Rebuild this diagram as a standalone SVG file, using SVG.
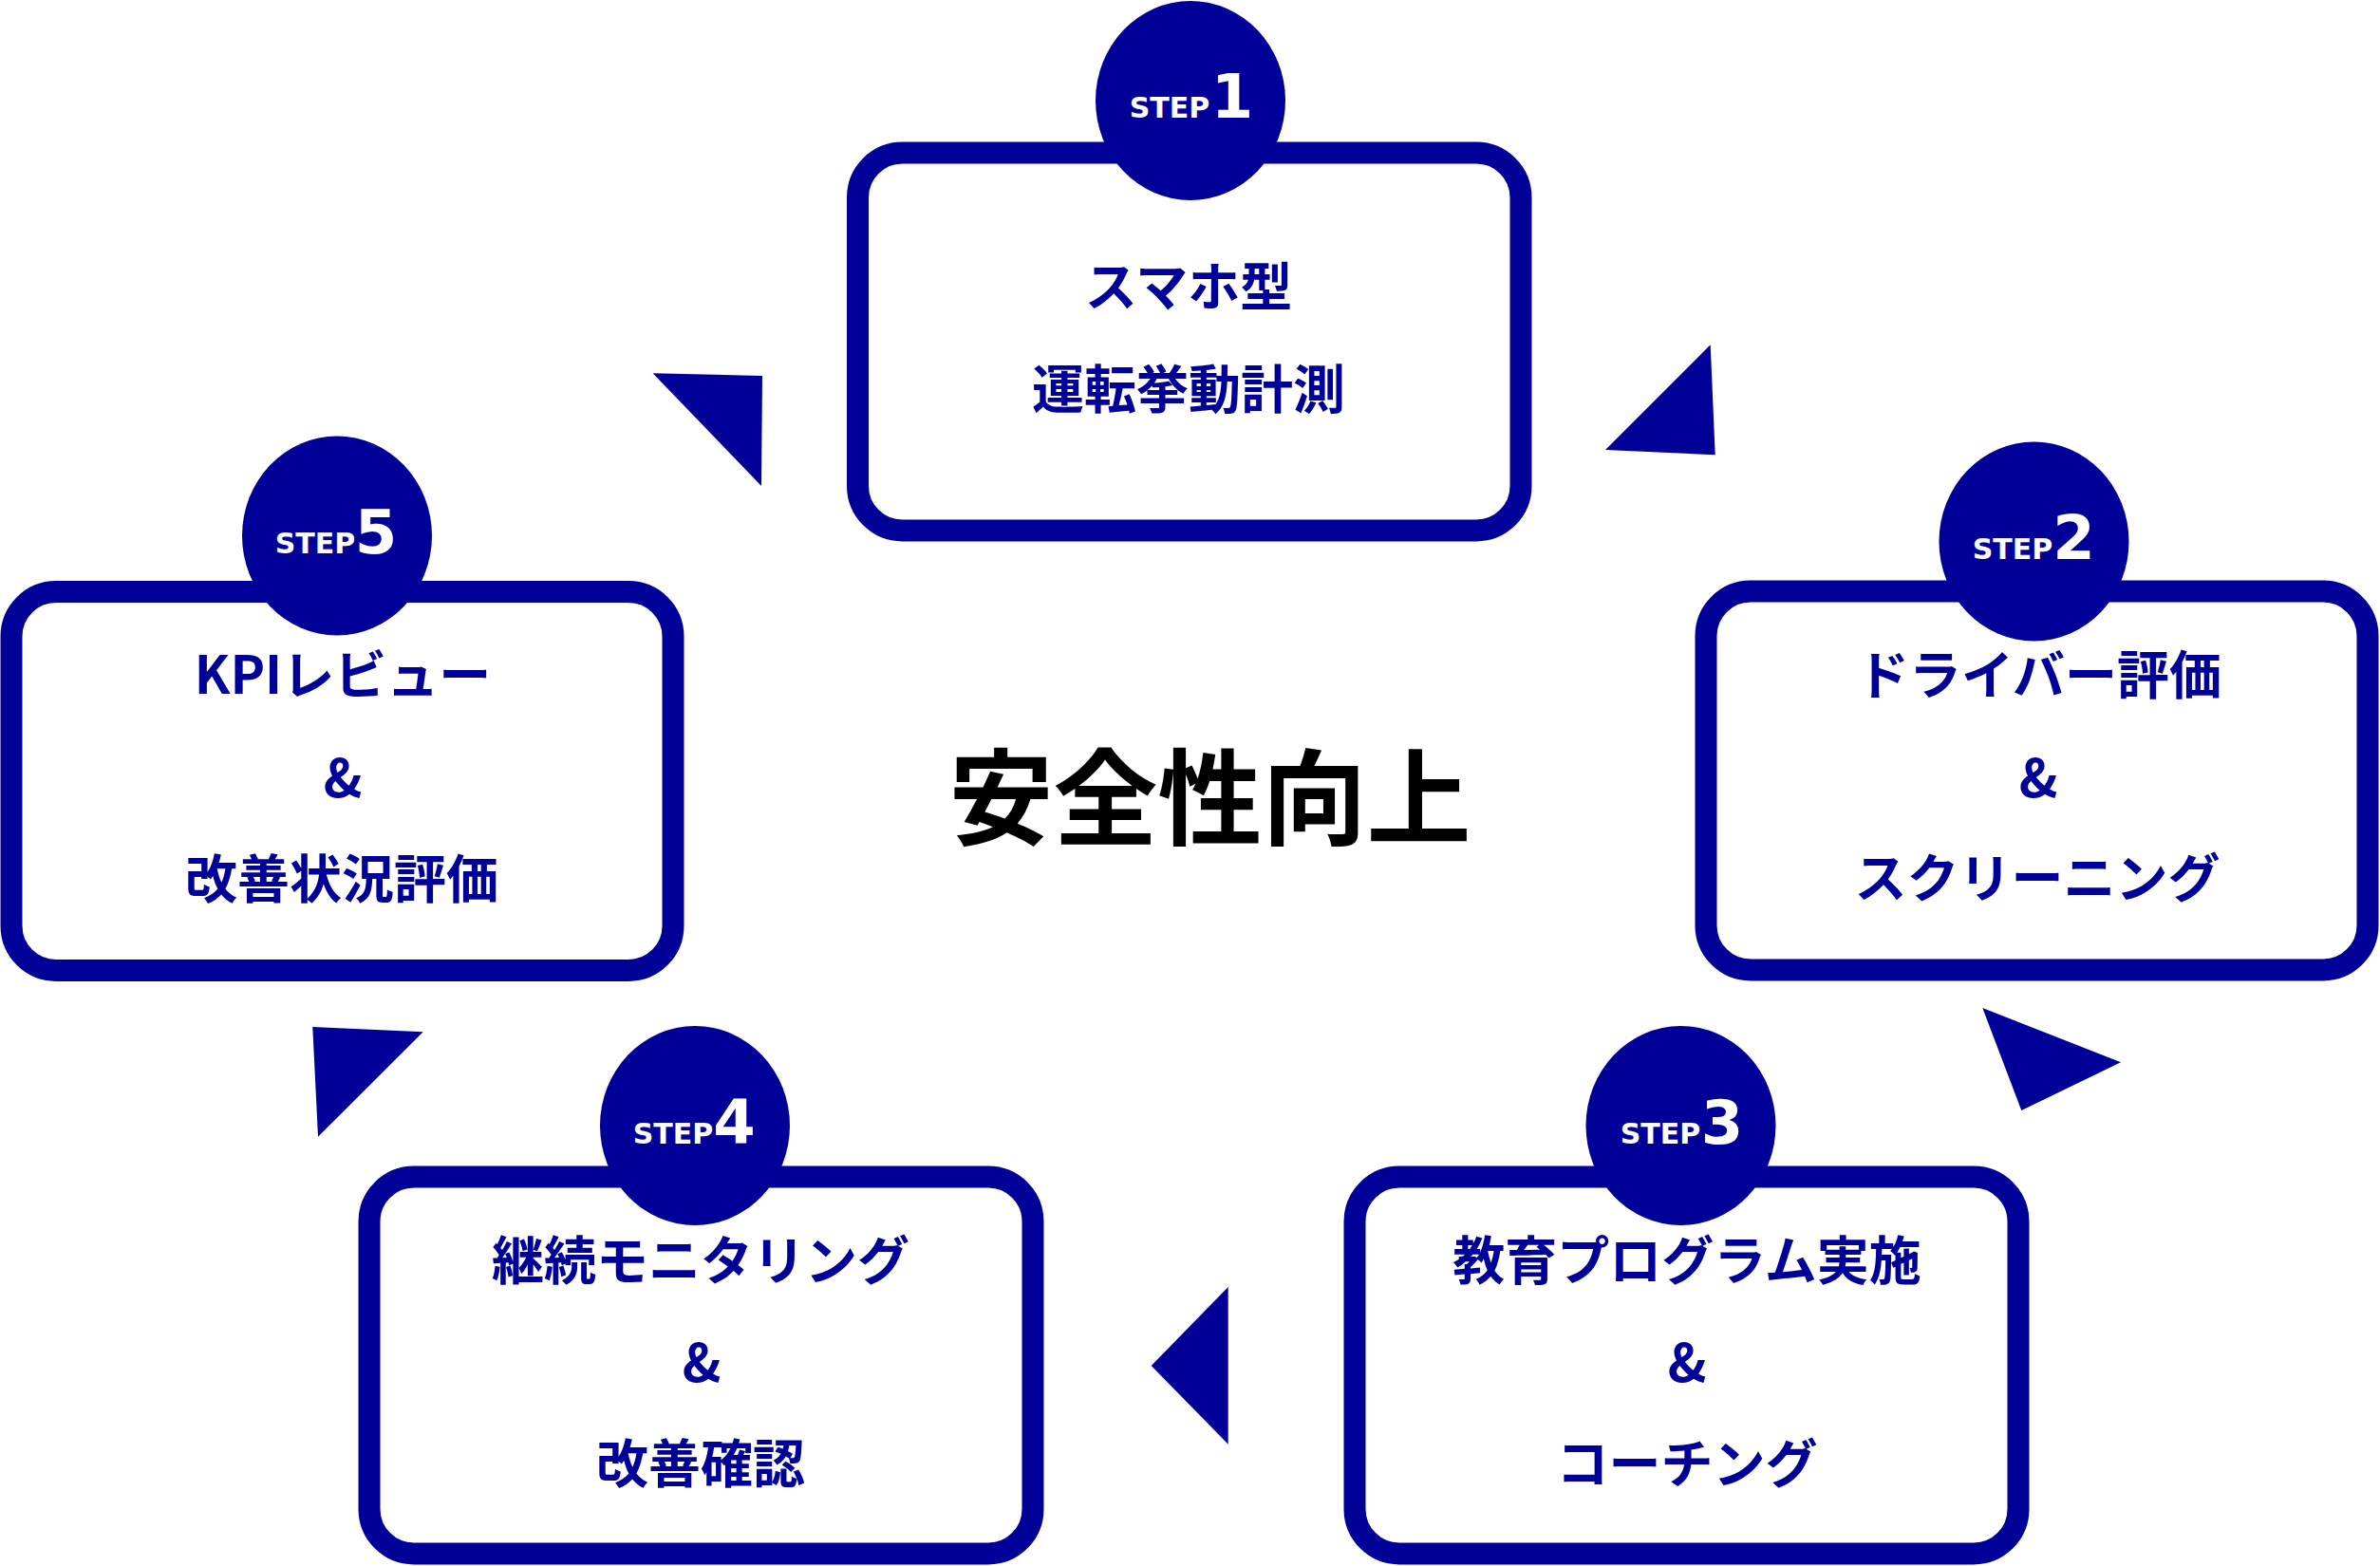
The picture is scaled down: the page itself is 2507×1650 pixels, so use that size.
<svg xmlns="http://www.w3.org/2000/svg" width="2507" height="1650" viewBox="0 0 2507 1650">
<style>
.box{fill:#ffffff;stroke:#000099;stroke-width:23}
.badge{fill:#000099}
.tri{fill:#000099}
.lbl{font-family:"Noto Sans CJK JP","Noto Sans",sans-serif;font-weight:bold;font-size:55px;fill:#000099;text-anchor:middle}
.step{font-family:"DejaVu Sans",sans-serif;font-weight:bold;font-size:30px;fill:#ffffff;text-anchor:middle}
.num{font-family:"DejaVu Sans",sans-serif;font-weight:bold;font-size:64px;fill:#ffffff;text-anchor:middle}
.title{font-family:"Noto Sans CJK JP",sans-serif;font-weight:bold;font-size:110px;fill:#000000;text-anchor:middle}
</style>
<rect width="2507" height="1650" fill="#ffffff"/>
<g id="connectors">
<polygon class="tri" points="1691,474 1801.7,363.3 1806.7,479.3"/>
<polygon class="tri" points="2088.3,1062 2234,1119.3 2129.3,1170"/>
<polygon class="tri" points="1212.7,1439 1293.7,1356 1293.7,1521.7"/>
<polygon class="tri" points="329.3,1082 445.7,1087.3 335,1197.7"/>
<polygon class="tri" points="687.6,393.3 803,396 802,512"/>
</g>
<g id="step1">
<rect class="box" x="903.5" y="161" width="698.5" height="398" rx="47" ry="47"/>
<ellipse class="badge" cx="1254" cy="106" rx="100" ry="105"/>
<text class="step" x="1232" y="123.5">STEP</text>
<text class="num" x="1298" y="123.5">1</text>
<text class="lbl" x="1252" y="322">スマホ型</text>
<text class="lbl" x="1252" y="430">運転挙動計測</text>
</g>
<g id="step2">
<rect class="box" x="1797" y="623" width="697" height="399" rx="47" ry="47"/>
<ellipse class="badge" cx="2142.5" cy="570.5" rx="100" ry="105"/>
<text class="step" x="2120" y="589">STEP</text>
<text class="num" x="2184.5" y="589">2</text>
<text class="lbl" x="2148" y="731">ドライバー評価</text>
<text class="lbl" x="2147" y="840">&amp;</text>
<text class="lbl" x="2146" y="945">スクリーニング</text>
</g>
<g id="step3">
<rect class="box" x="1427" y="1240" width="699" height="397" rx="47" ry="47"/>
<ellipse class="badge" cx="1770.5" cy="1186" rx="100" ry="105"/>
<text class="step" x="1749" y="1205">STEP</text>
<text class="num" x="1814" y="1205">3</text>
<text class="lbl" x="1777" y="1348">教育プログラム実施</text>
<text class="lbl" x="1777" y="1456">&amp;</text>
<text class="lbl" x="1777" y="1562">コーチング</text>
</g>
<g id="step4">
<rect class="box" x="389" y="1240" width="699" height="397" rx="47" ry="47"/>
<ellipse class="badge" cx="732" cy="1186" rx="100" ry="105"/>
<text class="step" x="709" y="1205">STEP</text>
<text class="num" x="773.5" y="1205">4</text>
<text class="lbl" x="738" y="1348">継続モニタリング</text>
<text class="lbl" x="739" y="1456">&amp;</text>
<text class="lbl" x="738" y="1562">改善確認</text>
</g>
<g id="step5">
<rect class="box" x="12" y="623.5" width="697" height="399" rx="47" ry="47"/>
<ellipse class="badge" cx="355" cy="564.5" rx="100" ry="105"/>
<text class="step" x="332" y="583">STEP</text>
<text class="num" x="396" y="583">5</text>
<text class="lbl" x="361" y="731">KPIレビュー</text>
<text class="lbl" x="361" y="840">&amp;</text>
<text class="lbl" x="360" y="946">改善状況評価</text>
</g>
<g id="center">
<text class="title" x="1274.5" y="882">安全性向上</text>
</g>
</svg>
